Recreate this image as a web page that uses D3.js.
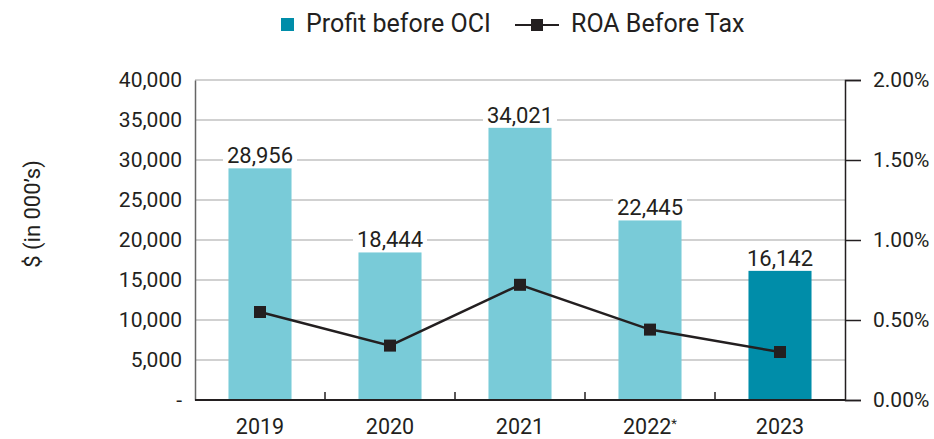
<!DOCTYPE html>
<html><head><meta charset="utf-8">
<script src="https://cdn.jsdelivr.net/npm/d3@7"></script>
<style>body{margin:0;background:#fff}svg{display:block;font-family:Roboto,"Noto Sans",sans-serif}</style>
</head><body><svg id="c" width="934" height="439"></svg>
<script>
const years = ["2019","2020","2021","2022*","2023"];
const profit = [28956, 18444, 34021, 22445, 16142];
const roa = [0.55, 0.34, 0.72, 0.44, 0.30];
const leftTicks = [0,5000,10000,15000,20000,25000,30000,35000,40000];
const rightTicks = [0,0.5,1.0,1.5,2.0];
const seriesNames = ["Profit before OCI","ROA Before Tax"];

const svg = d3.select("#c");
const ink = "#231F20", light = "#79CBD8", dark = "#008DA9", grid = "#C2C2C2";
const L = 195, R = 845, T = 80, B = 400;

const x = d3.scaleBand().domain(years).range([L, R]).paddingInner(0.515).paddingOuter(0.2575);
const y = d3.scaleLinear().domain([0, 40000]).range([B, T]);
const y2 = d3.scaleLinear().domain([0, 2]).range([B, T]);

// gridlines
svg.append("g").selectAll("line").data(leftTicks.filter(d=>d>0)).join("line")
  .attr("x1", L).attr("x2", R).attr("y1", d=>y(d)).attr("y2", d=>y(d))
  .attr("stroke", grid).attr("stroke-width", 1.5);

// bars
svg.append("g").selectAll("rect").data(profit).join("rect")
  .attr("x", (d,i)=>x(years[i])).attr("width", x.bandwidth())
  .attr("y", d=>y(d)).attr("height", d=>B - y(d))
  .attr("fill", (d,i)=> i===years.length-1 ? dark : light);

// data labels with white boxes
const lab = svg.append("g").selectAll("g").data(profit).join("g");
lab.append("rect")
  .attr("x", (d,i)=>x(years[i]) + x.bandwidth()/2 - 37)
  .attr("width", 74).attr("y", d=>y(d) - 24).attr("height", 20).attr("fill", "#fff");
lab.append("text")
  .attr("x", (d,i)=>x(years[i]) + x.bandwidth()/2)
  .attr("y", d=>y(d) - 5).attr("text-anchor", "middle")
  .attr("font-size", 22).attr("fill", ink).text(d=>d3.format(",")(d));

// left axis
const gl = svg.append("g").attr("transform", `translate(${L},0)`)
  .call(d3.axisLeft(y).tickValues(leftTicks).tickSize(0).tickPadding(13)
    .tickFormat(d=> d===0 ? "-" : d3.format(",")(d)));
gl.select(".domain").attr("stroke", "#666").attr("stroke-width", 1.5);
gl.selectAll("text").attr("font-size", 21).attr("fill", ink).attr("font-family", "Roboto");

// right axis
const gr = svg.append("g").attr("transform", `translate(${R},0)`)
  .call(d3.axisRight(y2).tickValues(rightTicks).tickSize(16).tickPadding(12)
    .tickFormat(d=>d3.format(".2f")(d) + "%"));
gr.select(".domain").attr("stroke", ink).attr("stroke-width", 1.5);
gr.selectAll(".tick line").attr("stroke", ink).attr("stroke-width", 1.5);
gr.selectAll("text").attr("font-size", 21).attr("fill", ink).attr("font-family", "Roboto");

// bottom axis
const gb = svg.append("g").attr("transform", `translate(0,${B})`)
  .call(d3.axisBottom(x).tickSize(0).tickPadding(19));
gb.select(".domain").remove();
gb.selectAll("text").attr("font-size", 21.5).attr("fill", ink).attr("font-family", "Roboto")
  .each(function(d){
    const t = d3.select(this);
    if (d.endsWith("*")) {
      t.text(d.slice(0,-1));
      t.append("tspan").attr("font-size", 13).attr("dy", "-0.45em").text("*");
    }
  });
svg.append("line").attr("x1", L).attr("x2", R).attr("y1", B).attr("y2", B)
  .attr("stroke", ink).attr("stroke-width", 2);
const bounds = years.slice(1).map(c => x(c) - x.step()*x.paddingInner()/2);
svg.append("g").selectAll("line").data(bounds).join("line")
  .attr("x1", d=>d).attr("x2", d=>d).attr("y1", B).attr("y2", B-8)
  .attr("stroke", ink).attr("stroke-width", 1.5);

// ROA line
const cx = i => x(years[i]) + x.bandwidth()/2;
svg.append("path").datum(roa)
  .attr("d", d3.line().x((d,i)=>cx(i)).y(d=>y2(d)))
  .attr("fill", "none").attr("stroke", ink).attr("stroke-width", 2.5);
svg.append("g").selectAll("rect").data(roa).join("rect")
  .attr("x", (d,i)=>cx(i)-6).attr("y", d=>y2(d)-6).attr("width", 12).attr("height", 12)
  .attr("fill", ink);

// y title
svg.append("text").attr("transform", "translate(40,214) rotate(-90)")
  .attr("text-anchor", "middle").attr("font-size", 22).attr("fill", ink).text("$ (in 000\u2019s)");

// legend
const lg = svg.append("g");
lg.append("rect").attr("x", 281).attr("y", 18).attr("width", 13).attr("height", 13).attr("fill", dark);
lg.append("text").attr("x", 306).attr("y", 32).attr("font-size", 25).attr("fill", ink).text(seriesNames[0]);
lg.append("line").attr("x1", 515).attr("x2", 559).attr("y1", 25).attr("y2", 25).attr("stroke", ink).attr("stroke-width", 2);
lg.append("rect").attr("x", 531).attr("y", 19).attr("width", 12).attr("height", 12).attr("fill", ink);
lg.append("text").attr("x", 571).attr("y", 32).attr("font-size", 25).attr("fill", ink).text(seriesNames[1]);
</script></body></html>
